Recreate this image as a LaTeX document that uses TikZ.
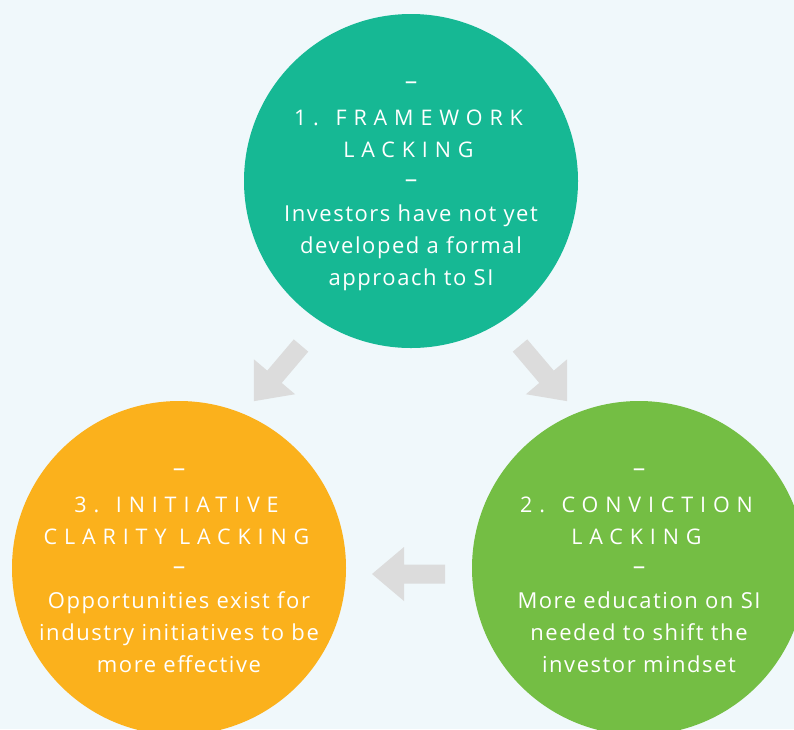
\documentclass[tikz,border=0pt]{standalone}
\usepackage{fontspec}
\usetikzlibrary{calc}
\setmainfont{Open Sans}[LetterSpace=7]
\newfontfamily\titlefont{Open Sans}[LetterSpace=32]
\newfontfamily\dashfont{Open Sans}
\definecolor{bgc}{HTML}{F0F8FB}
\definecolor{tealc}{HTML}{16B894}
\definecolor{orangec}{HTML}{FBB11C}
\definecolor{greenc}{HTML}{74BE44}
\definecolor{arrowc}{HTML}{DCDCDC}
\newcommand\blockarrowpath{(0,-9.5) -- (41,-9.5) -- (41,-27) -- (73,0) -- (41,27) -- (41,9.5) -- (0,9.5) -- cycle}
\tikzset{
  bubble/.style={circle, inner sep=0, minimum size=334pt},
  blockarrow/.style={fill=arrowc},
  bodytext/.style={text=white, font=\fontsize{22}{26}\selectfont, anchor=base, inner sep=0},
  titletext/.style={text=white, font=\titlefont\fontsize{21.5}{26}\selectfont, anchor=base, inner sep=0, xshift=-2.5pt},
  dashtext/.style={text=white, font=\dashfont\fontsize{25}{26}\selectfont, anchor=base, inner sep=0}
}
\begin{document}
\begin{tikzpicture}[x=1pt,y=-1pt]
\useasboundingbox (0,0) rectangle (794,729);
\fill[bgc] (0,0) rectangle (794,729);
\clip (0,0) rectangle (794,729);
% circles
\node[bubble, fill=tealc] (c1) at (411,181) {};
\node[bubble, fill=greenc] (c2) at (639,568) {};
\node[bubble, fill=orangec] (c3) at (179,568) {};
% arrows
\coordinate (a1) at (301,345.5);
\coordinate (a2) at (520,345.5);
\coordinate (a3) at (445,574);
\begin{scope}[shift={(a1)}, rotate=229.7]
  \fill[blockarrow] \blockarrowpath;
\end{scope}
\begin{scope}[shift={(a2)}, rotate=-49.7]
  \fill[blockarrow] \blockarrowpath;
\end{scope}
\begin{scope}[shift={(a3)}, rotate=180]
  \fill[blockarrow] \blockarrowpath;
\end{scope}
% texts circle 1
\node[dashtext] (d1a) at ($(c1)+(0,-92)$) {–};
\node[titletext] (t1a) at ($(c1)+(0,-56)$) {1. FRAMEWORK};
\node[titletext] (t1b) at ($(c1)+(0,-24)$) {LACKING};
\node[dashtext] (d1b) at ($(c1)+(0,6)$) {–};
\node[bodytext] (b1a) at ($(c1)+(0,40)$) {Investors have not yet};
\node[bodytext] (b1b) at ($(c1)+(0,72)$) {developed a formal};
\node[bodytext] (b1c) at ($(c1)+(0,104)$) {approach to SI};
% texts circle 2
\node[dashtext] (d2a) at ($(c2)+(0,-92)$) {–};
\node[titletext] (t2a) at ($(c2)+(0,-56)$) {2. CONVICTION};
\node[titletext] (t2b) at ($(c2)+(0,-24)$) {LACKING};
\node[dashtext] (d2b) at ($(c2)+(0,6)$) {–};
\node[bodytext] (b2a) at ($(c2)+(0,40)$) {More education on SI};
\node[bodytext] (b2b) at ($(c2)+(0,72)$) {needed to shift the};
\node[bodytext] (b2c) at ($(c2)+(0,104)$) {investor mindset};
% texts circle 3
\node[dashtext] (d3a) at ($(c3)+(0,-92)$) {–};
\node[titletext] (t3a) at ($(c3)+(0,-56)$) {3. INITIATIVE};
\node[titletext] (t3b) at ($(c3)+(0,-24)$) {CLARITY LACKING};
\node[dashtext] (d3b) at ($(c3)+(0,6)$) {–};
\node[bodytext] (b3a) at ($(c3)+(0,40)$) {Opportunities exist for};
\node[bodytext] (b3b) at ($(c3)+(0,72)$) {industry initiatives to be};
\node[bodytext] (b3c) at ($(c3)+(0,104)$) {more effective};
\end{tikzpicture}
\end{document}
